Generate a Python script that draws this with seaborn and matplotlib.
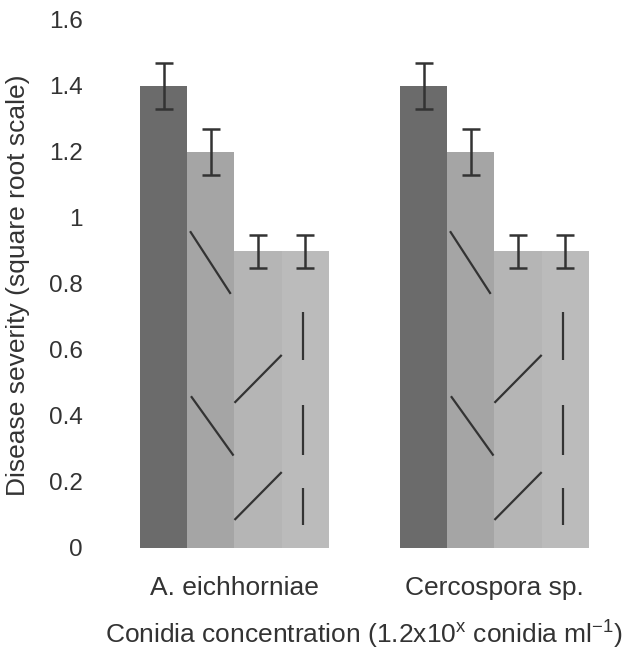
import pandas as pd
import seaborn as sns
import matplotlib.pyplot as plt

# values
fungi = ["A. eichhorniae", "Cercospora sp."]
concentrations = ["1.2x10^6", "1.2x10^5", "1.2x10^4", "1.2x10^3"]
severity = [
    [1.40, 1.20, 0.90, 0.90],
    [1.40, 1.20, 0.90, 0.90],
]
errors = [
    [0.07, 0.07, 0.05, 0.05],
    [0.07, 0.07, 0.05, 0.05],
]
y_ticks = [0, 0.2, 0.4, 0.6, 0.8, 1.0, 1.2, 1.4, 1.6]

bar_colors = ["#6b6b6b", "#a5a5a5", "#b5b5b5", "#bbbbbb"]

# sparse "hatch" strokes, as (x0 frac, y0, x1 frac, y1) per concentration
hatch_marks = {
    1: [(0.06, 0.96, 0.92, 0.77), (0.08, 0.46, 0.98, 0.28)],
    2: [(0.0, 0.44, 1.0, 0.585), (0.0, 0.085, 1.0, 0.23)],
    3: [(0.45, 0.715, 0.45, 0.57), (0.45, 0.433, 0.45, 0.282), (0.45, 0.182, 0.45, 0.07)],
}

rows = []
for i, f in enumerate(fungi):
    for j, c in enumerate(concentrations):
        rows.append({"fungus": f, "conc": c, "severity": severity[i][j]})
df = pd.DataFrame(rows)

sns.set_style("white")
plt.rcParams["font.family"] = ["Liberation Sans", "DejaVu Sans"]
plt.rcParams["mathtext.fontset"] = "custom"
plt.rcParams["mathtext.rm"] = "Liberation Sans"
text_color = "#333333"

fig = plt.figure(figsize=(6.22, 6.5), dpi=100)
ax = fig.add_axes([108 / 622, 102 / 650, 512 / 622, 528 / 650])

sns.barplot(data=df, x="fungus", y="severity", hue="conc",
            palette=bar_colors, width=0.727, gap=0, errorbar=None,
            legend=False, saturation=1, linewidth=0, ax=ax)

bar_groups = list(ax.containers)
for j, cont in enumerate(bar_groups):
    for i, bar in enumerate(cont):
        x0, w = bar.get_x(), bar.get_width()
        ax.errorbar(x0 + w / 2, severity[i][j], yerr=errors[i][j], fmt="none",
                    ecolor=text_color, elinewidth=1.8, capsize=6.5, capthick=1.8)
        for fx0, y0, fx1, y1 in hatch_marks.get(j, []):
            ax.plot([x0 + fx0 * w, x0 + fx1 * w], [y0, y1],
                    color=text_color, lw=1.6, solid_capstyle="butt")

ax.set_xlim(-0.4865, 1.483)
ax.set_ylim(0, 1.6)
ax.set_yticks(y_ticks)
ax.set_yticklabels([f"{t:g}" for t in y_ticks])
ax.tick_params(axis="y", length=0, labelsize=17.5, pad=18, labelcolor=text_color)
ax.tick_params(axis="x", length=0, labelsize=19, pad=20, labelcolor=text_color)
sns.despine(ax=ax, left=True, bottom=True)

ax.set_ylabel("Disease severity (square root scale)", fontsize=19, color=text_color)
ax.yaxis.set_label_coords(-0.152, 0.498)
ax.set_xlabel(r"Conidia concentration (1.2x10$^{\mathregular{x}}$ conidia ml$^{\mathregular{-1}}$)",
              fontsize=19, color=text_color)
ax.xaxis.set_label_coords(0.5, -0.131)

fig.savefig("out.png", dpi=100, facecolor="white")
plt.close(fig)
